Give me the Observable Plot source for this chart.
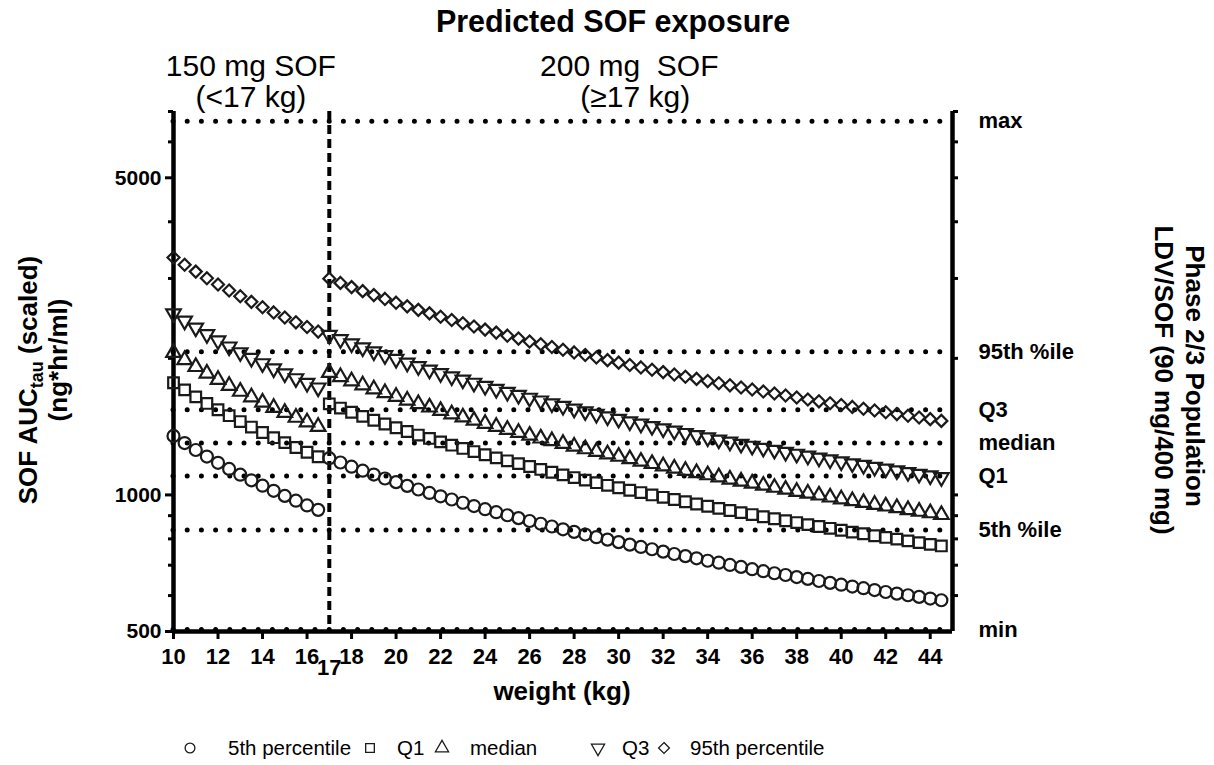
<!DOCTYPE html>
<html><head><meta charset="utf-8">
<script src="https://cdn.jsdelivr.net/npm/d3@7"></script>
<script src="https://cdn.jsdelivr.net/npm/@observablehq/plot@0.6"></script>
<style>
body{margin:0;background:#fff}
svg{font-family:"Liberation Sans",Arial,Helvetica,sans-serif}
</style>
</head><body><div id="chart"></div>
<script>
// weights (kg)
const weightsLow = [10,10.5,11,11.5,12,12.5,13,13.5,14,14.5,15,15.5,16,16.5];
const weightsHigh = [17,17.5,18,18.5,19,19.5,20,20.5,21,21.5,22,22.5,23,23.5,24,24.5,25,25.5,26,26.5,27,27.5,28,28.5,29,29.5,30,30.5,31,31.5,32,32.5,33,33.5,34,34.5,35,35.5,36,36.5,37,37.5,38,38.5,39,39.5,40,40.5,41,41.5,42,42.5,43,43.5,44,44.5];

// SOF AUCtau (ng*hr/ml), 150 mg segment (<17 kg) and 200 mg segment (>=17 kg)
const p5Low = [1349,1301,1256,1215,1177,1141,1108,1077,1048,1021,995,971,948,927];
const p5High = [1205,1179,1154,1131,1109,1087,1067,1047,1028,1010,993,977,961,945,930,916,902,889,876,864,852,840,829,818,807,797,787,777,768,759,750,741,733,725,716,709,701,694,686,679,672,666,659,653,646,640,634,628,623,617,611,606,601,596,591,586];
const q1Low = [1767,1704,1645,1591,1541,1495,1451,1411,1373,1337,1304,1272,1242,1214];
const q1High = [1588,1554,1521,1490,1461,1433,1406,1380,1355,1332,1309,1287,1266,1246,1226,1207,1189,1172,1155,1138,1122,1107,1092,1078,1064,1050,1037,1024,1012,1000,988,977,966,955,944,934,924,914,905,895,886,877,869,860,852,844,836,828,821,813,806,799,792,785,778,772];
const medLow = [2058,1984,1916,1853,1795,1741,1690,1643,1599,1557,1518,1481,1447,1414];
const medHigh = [1860,1820,1782,1746,1711,1678,1647,1616,1587,1560,1533,1507,1483,1459,1436,1414,1393,1372,1352,1333,1315,1297,1279,1262,1246,1230,1215,1200,1185,1171,1157,1144,1131,1118,1106,1094,1082,1071,1060,1049,1038,1028,1017,1008,998,988,979,970,961,952,944,936,927,919,912,904];
const q3Low = [2509,2419,2336,2259,2188,2122,2061,2003,1949,1899,1851,1806,1764,1723];
const q3High = [2250,2202,2156,2112,2070,2030,1992,1955,1920,1887,1854,1823,1794,1765,1737,1711,1685,1660,1636,1613,1590,1569,1548,1527,1507,1488,1470,1451,1434,1417,1400,1384,1368,1353,1338,1323,1309,1295,1282,1269,1256,1243,1231,1219,1207,1196,1184,1173,1163,1152,1142,1132,1122,1112,1103,1093];
const p95Low = [3336,3216,3106,3004,2910,2822,2740,2664,2592,2525,2461,2401,2345,2291];
const p95High = [2997,2933,2871,2813,2757,2704,2653,2604,2558,2513,2470,2429,2389,2351,2314,2279,2244,2211,2179,2148,2118,2089,2061,2034,2008,1982,1957,1933,1910,1887,1865,1843,1822,1802,1782,1763,1744,1725,1707,1690,1673,1656,1639,1623,1608,1592,1578,1563,1549,1535,1521,1507,1494,1481,1469,1456];

// Phase 2/3 population reference levels
const refNames = ["max","95th %ile","Q3","median","Q1","5th %ile","min"];
const refValues = [6660,2069,1540,1302,1101,837,505];

// ticks
const xTicks = [10,12,14,16,18,20,22,24,26,28,30,32,34,36,38,40,42,44];
const cutoffWeight = [17];
const yTicksMajor = [500,1000,5000];
const yTicksMinor = [600,700,800,900,2000,3000,4000,6000,7000];
const yTicksRight = [600,700,800,900,1000,2000,3000,4000,5000,6000,7000];

const seriesNames = ["5th percentile","Q1","median","Q3","95th percentile"];
const seriesSymbols = ["circle","square","triangle","triangle","diamond2"];
const seriesRotate = [0,0,0,180,0];
const seriesR = [6,6,5.4,5.4,5.4];
const lowValues = [p5Low,q1Low,medLow,q3Low,p95Low];
const highValues = [p5High,q1High,medHigh,q3High,p95High];

const rowsBySeries = seriesNames.map((name, k) => [
  ...weightsLow.map((w, i) => ({w, v: lowValues[k][i], name})),
  ...weightsHigh.map((w, i) => ({w, v: highValues[k][i], name}))
]);
const refRows = refNames.map((name, i) => ({name, v: refValues[i]}));

const ink = "#1a1a1a";
const chart = Plot.plot({
  width: 1214, height: 765,
  marginLeft: 173, marginRight: 262, marginTop: 111, marginBottom: 134,
  style: {fontFamily: '"Liberation Sans",Arial,sans-serif', background: "white", color: "#000", overflow: "visible"},
  x: {domain: [10, 45], axis: null},
  y: {type: "log", domain: [500, 7000], axis: null},
  marks: [
    Plot.ruleY(refValues, {stroke: "#000", strokeWidth: 5, strokeDasharray: "0,14.2", strokeLinecap: "round"}),
    Plot.ruleX(cutoffWeight, {stroke: "#000", strokeWidth: 4, strokeDasharray: "9,5"}),
    Plot.ruleX([10], {stroke: "#000", strokeWidth: 4.5}),
    Plot.ruleX([45], {stroke: "#000", strokeWidth: 4.5}),
    Plot.ruleY([500], {stroke: "#000", strokeWidth: 4.5}),
    Plot.axisY({ticks: yTicksMajor, anchor: "left", tickSize: 8, tickPadding: 4, strokeWidth: 3, fontSize: 21, fontWeight: "bold", tickFormat: d => String(d), label: null}),
    Plot.axisY({ticks: yTicksMinor, anchor: "left", tickSize: 5, strokeWidth: 3, tickFormat: () => "", label: null}),
    Plot.axisY({ticks: yTicksRight, anchor: "right", tickSize: 5, strokeWidth: 3, tickFormat: () => "", label: null}),
    Plot.axisX({ticks: xTicks, anchor: "bottom", tickSize: 8, tickPadding: 9, strokeWidth: 3, fontSize: 22, fontWeight: "bold", tickFormat: d => String(d), label: null}),
    Plot.axisX({ticks: cutoffWeight, anchor: "bottom", tickSize: 0, tickPadding: 28, fontSize: 22, fontWeight: "bold", tickFormat: d => String(d), label: null}),
    Plot.text(refRows, {y: "v", text: "name", frameAnchor: "right", dx: 26, textAnchor: "start", fontSize: 22, fontWeight: "bold", fill: "#000"}),
    ...rowsBySeries.map((rows, k) => Plot.dot(rows, {
      x: "w", y: "v", symbol: seriesSymbols[k], rotate: seriesRotate[k], r: seriesR[k],
      fill: "none", stroke: ink, strokeWidth: 2.2
    }))
  ]
});
document.getElementById("chart").appendChild(chart);

const svg = d3.select(chart);
const xs = chart.scale("x");
const font = '"Liberation Sans",Arial,sans-serif';
function label(x, y, txt, size, weight, anchor = "middle") {
  return svg.append("text").attr("x", x).attr("y", y).attr("text-anchor", anchor)
    .style("font-family", font).style("font-size", size + "px").style("font-weight", weight)
    .style("white-space", "pre").attr("fill", "#000").text(txt);
}
// title and dose groups
label(613, 32, "Predicted SOF exposure", 30.5, "bold");
const lowMid = xs.apply((weightsLow[0] + cutoffWeight[0]) / 2);
const highMid = xs.apply((cutoffWeight[0] + xTicks[xTicks.length - 1]) / 2);
label(lowMid, 76, "150 mg SOF", 30, "normal");
label(lowMid, 107, "(<17 kg)", 30, "normal");
label(highMid, 76, "200 mg  SOF", 30, "normal");
label(highMid + 6, 107, "(\u226517 kg)", 30, "normal");
// x label
label(562, 700, "weight (kg)", 26, "bold");

// left y label with subscript
const yl = svg.append("text").attr("transform", "translate(37,380) rotate(-90)").attr("text-anchor", "middle")
  .style("font-family", font).style("font-size", "26px").style("font-weight", "bold");
yl.append("tspan").text("SOF AUC");
yl.append("tspan").attr("dy", 6).style("font-size", "18px").text("tau");
yl.append("tspan").attr("dy", -6).text(" (scaled)");
svg.append("text").attr("transform", "translate(67,360) rotate(-90)").attr("text-anchor", "middle")
  .style("font-family", font).style("font-size", "26px").style("font-weight", "bold").text("(ng*hr/ml)");

// right y label
svg.append("text").attr("transform", "translate(1186,376) rotate(90)").attr("text-anchor", "middle")
  .style("font-family", font).style("font-size", "26px").style("font-weight", "bold").text("Phase 2/3 Population");
svg.append("text").attr("transform", "translate(1155,380) rotate(90)").attr("text-anchor", "middle")
  .style("font-family", font).style("font-size", "26px").style("font-weight", "bold").text("LDV/SOF (90 mg/400 mg)");

// legend
const legendSym = [d3.symbolCircle, d3.symbolSquare, d3.symbolTriangle, d3.symbolTriangle, d3.symbolDiamond2];
const legendSymX = [190, 370, 442, 598, 664];
const legendTextX = [228, 397, 470, 622, 690];
const legendY = 748;
seriesNames.forEach((name, k) => {
  svg.append("path").attr("d", d3.symbol(legendSym[k], 75)())
    .attr("transform", `translate(${legendSymX[k]},${legendY}) rotate(${seriesRotate[k]})`)
    .attr("fill", "none").attr("stroke", ink).attr("stroke-width", 1.3);
  label(legendTextX[k], legendY + 7, name, 20.5, "normal", "start");
});
</script>
</body></html>
